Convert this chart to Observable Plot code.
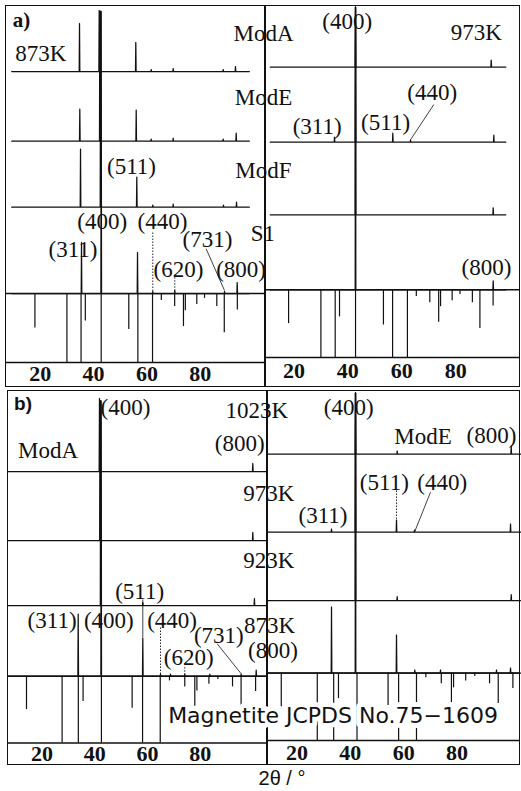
<!DOCTYPE html>
<html><head><meta charset="utf-8">
<script src="https://cdn.jsdelivr.net/npm/d3@7"></script>
<script src="https://cdn.jsdelivr.net/npm/@observablehq/plot@0.6"></script>
<style>
body{margin:0;background:#fff}
#fig{position:relative;width:521px;height:791px;background:#fff;overflow:hidden}
.box{position:absolute;box-sizing:border-box;border:1.5px solid #111}
.pan{position:absolute}
.pan svg{overflow:visible;background:transparent}
#xlab{position:absolute;left:222px;top:767px;width:120px;text-align:center;font-family:"Liberation Sans",sans-serif;font-size:20px;color:#111}
</style></head><body><div id="fig"></div>
<script>
// ---- tick labels (2θ / °)
const ticks2theta = [20, 40, 60, 80];

// ---- Magnetite JCPDS No.75-1609 reference sticks: [2θ, relative intensity]
const jcpdsA = [[18.0,0.5],[30.0,1],[35.3,1],[36.9,0.4],[42.85,1],[53.2,0.52],[56.6,1],[62.1,1],[65.4,0.1],[70.4,0.19],[73.7,0.48],[74.4,0.25],[78.7,0.16],[81.6,0.07],[86.2,0.19],[89.0,0.57],[93.9,0.24]];
const jcpdsB = [[14.1,0.5],[27.6,1],[33.75,1],[35.55,0.38],[42.5,1],[54.15,0.48],[58.1,1],[64.8,1],[68.3,0.07],[74.1,0.16],[77.9,0.45],[78.7,0.22],[83.25,0.12],[86.65,0.05],[92.2,0.16],[95.45,0.45],[100.95,0.23]];

// ---- measured patterns: peaks [2θ, intensity (a.u.)]
// a) 873 K
const a873_ModA = [[34.72,48],[42.1,61],[55.83,29],[61.6,2],[69.85,3],[88.6,2],[93.2,5]];
const a873_ModE = [[34.83,32],[42.33,130],[55.98,31],[61.6,2],[69.85,3],[88.6,2],[93.47,8]];
const a873_ModF = [[35.1,58],[42.6,196],[56.2,30],[62.2,2],[69.85,3],[88.7,2],[93.6,5]];
const a873_S1   = [[35.47,51],[42.86,282],[56.47,41],[62.2,2],[70.45,3],[89.1,2],[93.85,11]];
// a) 973 K
const a973_ModA = [[42.84,60],[93.19,7]];
const a973_ModE = [[35.05,5],[42.84,135],[56.68,9],[63.25,2],[94.16,7]];
const a973_ModF = [[42.84,208],[93.93,7]];
const a973_S1   = [[42.84,282],[93.93,9]];
// b) ModA
const bModA_1023 = [[41.77,73],[99.89,8]];
const bModA_973  = [[41.96,140],[99.89,8]];
const bModA_923  = [[42.2,205],[58.2,3],[100.5,7]];
const bModA_873  = [[33.7,62],[42.42,275],[58.19,38],[64.9,2],[68.7,2],[74.1,2],[83.6,2],[95.49,2],[101.18,6]];
// b) ModE
const bModE_1023 = [[41.94,61],[57.57,3],[100.32,8]];
const bModE_973  = [[32.94,3],[41.94,139],[57.31,12],[64.06,2],[100.06,8]];
const bModE_923  = [[41.94,208],[57.57,4],[100.32,6]];
const bModE_873  = [[32.94,66],[41.94,280],[57.31,38],[64.17,3],[73.8,3],[94.8,3],[100.06,5]];

// scan ranges (2θ)
const scanA873 = [9.3, 98.4];
const scanA973 = [11.2, 98.6];
const scanBModA = [6.9, 105.46];
const scanBModE = [8.94, 103.8];

// ---- annotations (text, 2θ, height) and leader lines
const labAL = [["873K",20.2,309],["ModA",103.7,329],["ModE",103.7,265],["ModF",103.7,192],["S1",103.5,129],
  ["(511)",54.2,196],["(400)",43.2,141],["(440)",65.8,141],["(311)",32.3,113],["(731)",82.7,122.5],["(620)",71.8,92.5],["(800)",95.3,92.5]];
const leadAL = [[62.2,130,62.2,71,1],[70.45,85.3,70.45,72,1],[82.2,113.7,89.09,72,0]];
const labAR = [["(400)",39.76,336],["973K",87.7,325],["(311)",28.6,231],["(511)",54.0,234.5],["(440)",71.3,264.5],["(800)",91.4,89.5]];
const leadAR = [[71.9,253,63.25,217.7,0]];
const labBL = [["ModA",22.25,292.7],["(400)",51.6,335.8],["1023K",101.4,332.5],["(800)",94.9,299.2],["973K",106.0,249.2],
  ["923K",106.0,182.5],["873K",106.2,117.5],["(511)",57.0,151.7],["(311)",23.8,122.5],["(400)",45.3,122.5],["(440)",69.3,122.5],
  ["(731)",87.0,107.5],["(620)",75.6,85],["(800)",107.5,92.5]];
const leadBL = [[58.19,143.5,58.19,105.5,0],[64.9,115.5,64.9,67,1],[74.1,75.8,74.1,69,1],[86.39,99.2,95.49,69.2,0]];
const labBR = [["(400)",39.4,333.3],["ModE",67.25,304.2],["(800)",92.9,305],["(311)",29.75,225],["(511)",52.74,258.3],["(440)",74.45,258.3]];
const leadBR = [[57.31,250,57.31,221.7,1],[70.06,248.3,64.06,208.3,0]];

const INK = "#111";
const fig = document.getElementById("fig");

function tracePoints(peaks, range, off) {
  const hw = 0.12;
  const pts = [[range[0], off]];
  [...peaks].sort((a,b)=>a[0]-b[0]).forEach(([p,h]) => {
    pts.push([p-hw, off], [p, off+h], [p+hw, off]);
  });
  pts.push([range[1], off]);
  return pts;
}

function box(l,t,w,h){
  const d=document.createElement("div");d.className="box";
  Object.assign(d.style,{left:l+"px",top:t+"px",width:w+"px",height:h+"px"});
  fig.appendChild(d);
}

function panel(o){
  const ph = o.height - o.mb;
  const stickTop = o.offsets[o.offsets.length-1];
  const marks = [
    Plot.ruleY([0], {stroke: INK, strokeWidth: 1.5}),
    Plot.ruleX(o.sticks, {x: d=>d[0], y1: d=>stickTop, y2: d=>stickTop*(1-d[1]), stroke: INK, strokeWidth: 1.2}),
    Plot.ruleY([stickTop], {stroke: INK, strokeWidth: 1.6}),
  ];
  o.traces.forEach((t,i) => {
    marks.push(Plot.line(tracePoints(t, o.range, o.offsets[i]), {x: d=>d[0], y: d=>d[1], stroke: INK, strokeWidth: 1.25}));
  });
  marks.push(
    Plot.link(o.leaders.filter(d=>d[4]===0), {x1:d=>d[0], y1:d=>d[1], x2:d=>d[2], y2:d=>d[3], stroke: INK, strokeWidth: 0.8}),
    Plot.link(o.leaders.filter(d=>d[4]===1), {x1:d=>d[0], y1:d=>d[1], x2:d=>d[2], y2:d=>d[3], stroke: INK, strokeWidth: 0.9, strokeDasharray: "1.5,1.5"}),
    Plot.text(o.labels, {x: d=>d[1], y: d=>d[2], text: d=>d[0], fontSize: 23, fontFamily: "Liberation Serif", fill: INK}),
    Plot.axisX({ticks: ticks2theta, tickSize: 0, tickPadding: o.pad, label: null})
  );
  if (o.extra) marks.push(...o.extra);
  const chart = Plot.plot({
    width: o.width, height: o.height,
    marginTop: 0, marginLeft: 0, marginRight: 0, marginBottom: o.mb,
    x: {domain: o.domain, axis: null},
    y: {domain: [0, ph], axis: null},
    style: {background: "transparent", overflow: "visible", color: INK, fontFamily: "Liberation Serif", fontSize: "22px"},
    marks
  });
  // style the axis tick labels (bold serif, as in the original)
  const tickSet = new Set(ticks2theta.map(String));
  chart.querySelectorAll("text").forEach(t => {
    if (tickSet.has(t.textContent.trim())) {
      t.setAttribute("font-family", "Liberation Serif");
      t.setAttribute("font-size", "22");
      t.setAttribute("font-weight", "bold");
      t.style.fontFamily = "'Liberation Serif', serif";
      t.style.fontSize = "22px";
      t.style.fontWeight = "bold";
      t.setAttribute("fill", INK);
    }
  });
  const d = document.createElement("div");
  d.className = "pan";
  Object.assign(d.style, {left: o.left+"px", top: o.top+"px", width: o.width+"px", height: o.height+"px"});
  d.appendChild(chart);
  fig.appendChild(d);
}

// panel frames
box(5,5,260,382); box(265,5,255,382); box(7,390,260,375); box(267,390,253,375);

panel({left:5, top:5, width:260, height:382, mb:25, domain:[6.97,104.46], pad:3,
  traces:[a873_ModA,a873_ModE,a873_ModF,a873_S1], offsets:[291,221.3,155.3,69], range: scanA873,
  sticks: jcpdsA, labels: labAL, leaders: leadAL,
  extra:[Plot.text(["a)"], {x: ()=>12.97, y: ()=>342, text: d=>d, fontSize: 21, fontWeight: "bold", fontFamily: "Liberation Serif", fill: INK})]});

panel({left:265, top:5, width:255, height:382, mb:30, domain:[9.44,104.06], pad:5,
  traces:[a973_ModA,a973_ModE,a973_ModF,a973_S1], offsets:[290.3,215.3,142.7,67.7], range: scanA973,
  sticks: jcpdsA, labels: labAR, leaders: leadAR});

panel({left:7, top:390, width:260, height:375, mb:22.5, domain:[6.90,105.46], pad:2,
  traces:[bModA_1023,bModA_973,bModA_923,bModA_873], offsets:[271.5,202.5,137.5,66.8], range: scanBModA,
  sticks: jcpdsB, labels: labBL, leaders: leadBL,
  extra:[Plot.text(["b)"], {x: ()=>12.78, y: ()=>338.7, text: d=>d, fontSize: 19, fontWeight: "bold", fontFamily: "Liberation Sans", fill: INK})]});

panel({left:267, top:390, width:253, height:375, mb:25, domain:[8.94,103.8], pad:3.5,
  traces:[bModE_1023,bModE_973,bModE_923,bModE_873], offsets:[286.5,208.5,139.8,67.5], range: scanBModE,
  sticks: jcpdsB, labels: labBR, leaders: leadBR,
  extra:[Plot.text(["Magnetite JCPDS No.75\u22121609"], {x: ()=>33.5, y: ()=>25, text: d=>d, fontSize: 22, fontFamily: "DejaVu Sans", fill: INK, stroke: "white", strokeWidth: 10})]});

const xl = document.createElement("div"); xl.id = "xlab"; xl.textContent = "2\u03b8 / \u00b0"; fig.appendChild(xl);
</script></body></html>
